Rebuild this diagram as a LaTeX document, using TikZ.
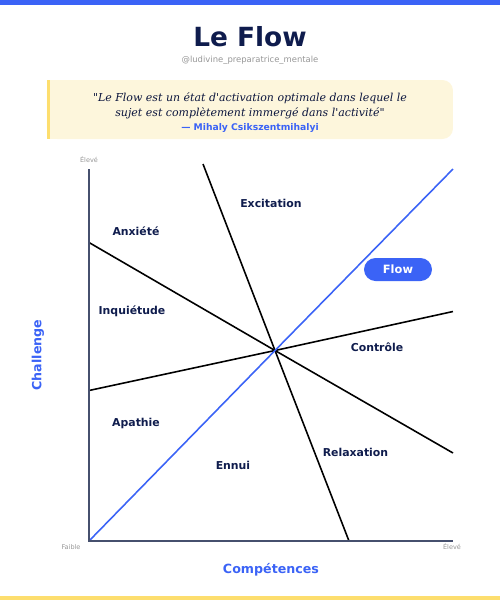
\documentclass[tikz,border=0pt]{standalone}
\usepackage{fontspec}
\setmainfont{DejaVu Sans}
\newfontfamily\quotefont{DejaVu Serif}
\usepackage{tikz}
\usetikzlibrary{positioning}
\definecolor{flownavy}{RGB}{15,28,77}
\definecolor{flowblue}{RGB}{59,99,246}
\definecolor{flowyellow}{RGB}{253,222,110}
\definecolor{quotefill}{RGB}{253,246,220}
\definecolor{axisgray}{RGB}{70,80,110}
\definecolor{tickgray}{RGB}{150,150,150}
\tikzset{
  zonelabel/.style = {font=\fontsize{6.2}{7.5}\selectfont\bfseries, text=flownavy, inner sep=0pt},
  ticklabel/.style = {font=\fontsize{3.7}{4.5}\selectfont, text=tickgray, inner sep=0pt},
  axistitle/.style = {font=\fontsize{7.2}{8.5}\selectfont\bfseries, text=flowblue, inner sep=0pt},
  zoneline/.style = {line width=0.9pt, black},
  axisline/.style = {line width=0.75pt, draw=axisgray},
  flowpill/.style = {fill=flowblue, rounded corners=0.23cm, minimum width=1.36cm,
                     minimum height=0.46cm, text=white, inner sep=0pt,
                     font=\fontsize{6.5}{7.5}\selectfont\bfseries}
}
\begin{document}
\begin{tikzpicture}[x=0.02cm, y=-0.02cm]
\useasboundingbox (0,0) rectangle (500,600);
\fill[flowblue] (0,0) rectangle (500,4.5);
\fill[flowyellow] (0,596) rectangle (500,600);

\node[font=\fontsize{15}{18}\selectfont\bfseries, text=flownavy, inner sep=0pt] (title) at (250,37) {Le Flow};
\node[font=\fontsize{4.8}{6}\selectfont, text=tickgray, inner sep=0pt] (handle) at (250,60) {@ludivine\_preparatrice\_mentale};

\fill[quotefill, rounded corners=6] (47,80) rectangle (453,139);
\fill[quotefill] (47,80) rectangle (60,139);
\fill[flowyellow] (47,80) rectangle (50,139);
\node[font=\quotefont\itshape\fontsize{6.25}{8.5}\selectfont, text=flownavy!80!black, align=center, inner sep=0pt] (quote) at (250,105.5)
  {"Le Flow est un état d'activation optimale dans lequel le\\sujet est complètement immergé dans l'activité"};
\node[font=\fontsize{5.25}{6.5}\selectfont\bfseries, text=flowblue, inner sep=0pt] (author) at (250,128) {— Mihaly Csikszentmihalyi};

\coordinate (origin) at (89,541);
\coordinate (ytop) at (89,169);
\coordinate (xend) at (453,541);
\coordinate (mid) at (275,350.5);
\coordinate (flowend) at (453,169);
\coordinate (steeptop) at (203,164);
\coordinate (steepbot) at (349,541);
\coordinate (downleft) at (89,242.5);
\coordinate (downright) at (453,453);
\coordinate (flatleft) at (89,390.5);
\coordinate (flatright) at (453,311.5);

\draw[zoneline] (steeptop) -- (mid) -- (steepbot);
\draw[zoneline] (downleft) -- (mid) -- (downright);
\draw[zoneline] (flatleft) -- (mid) -- (flatright);
\draw[line width=0.9pt, flowblue] (origin) -- (mid) -- (flowend);
\draw[axisline] (ytop) -- (origin) -- (xend);

\node[ticklabel] (ymax) at (89,160) {Élevé};
\node[ticklabel] (ymin) at (71,547) {Faible};
\node[ticklabel] (xmax) at (452,547) {Élevé};

\node[zonelabel] (excitation) at (271,203) {Excitation};
\node[zonelabel] (anxiete) at (136,231) {Anxiété};
\node[zonelabel] (inquietude) at (132,311) {Inquiétude};
\node[zonelabel] (controle) at (377,347) {Contrôle};
\node[zonelabel] (apathie) at (136,423) {Apathie};
\node[zonelabel] (ennui) at (233,465) {Ennui};
\node[zonelabel] (relaxation) at (355.5,452) {Relaxation};
\node[flowpill] (flow) at (398,269.5) {Flow};

\node[axistitle, rotate=90] (challenge) at (38,355) {Challenge};
\node[axistitle] (competences) at (271,570) {Compétences};
\end{tikzpicture}
\end{document}
